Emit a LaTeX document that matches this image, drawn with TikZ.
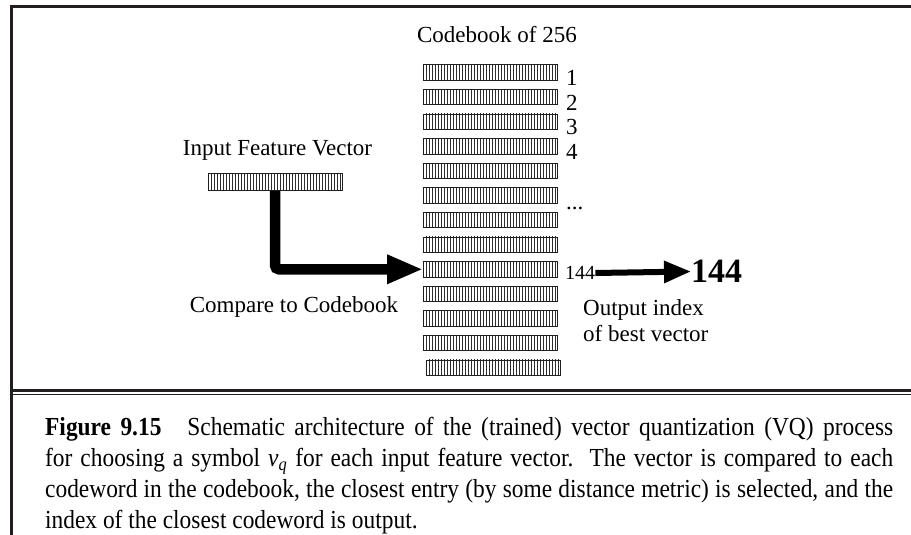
\documentclass[tikz,border=0pt]{standalone}
\usepackage{fontspec}
\setmainfont{Liberation Serif}
\newfontfamily\captionfont[FakeStretch=0.9]{Liberation Serif}
\usepackage{xcolor}
\usepackage{tikz}
\usetikzlibrary{positioning,calc,arrows.meta}
\definecolor{rulegray}{RGB}{35,31,32}
\definecolor{stripegray}{RGB}{45,45,45}

\begin{document}
\begin{tikzpicture}[x=1pt, y=-1pt, codeword/.style={draw=rulegray, line width=0.9pt, minimum width=134pt, minimum height=15.5pt, inner sep=0pt, path picture={\foreach \k in {3,6,...,132} {\draw[stripegray, line width=0.7pt] (path picture bounding box.south west) ++(\k pt,0pt) -- ++(0pt,20pt);}}}, lbl/.style={font=\fontsize{23}{27}\selectfont, inner sep=0pt}, bigarrow/.style={-{Triangle[length=36pt,width=27pt]}, draw=black, line width=10.5pt, rounded corners=4pt}, outarrow/.style={-{Triangle[length=27pt,width=21pt]}, draw=black, line width=6pt}, frameline/.style={draw=rulegray, line width=3pt}]
\useasboundingbox (0,0) rectangle (911,535);
\draw[frameline] (911,7) -- (11,7) -- (11,535);
\draw[frameline] (11,390) -- (911,390);
\draw[draw=rulegray, line width=1.5pt] (11,394.5) -- (911,394.5);
\node[lbl, anchor=base] (title) at (497,43) {Codebook of 256};
\node[codeword] (c1) at (490.5,72.5) {};
\node[codeword] (c2) at (490.5,97.1) {};
\node[codeword] (c3) at (490.5,121.7) {};
\node[codeword] (c4) at (490.5,146.3) {};
\node[codeword] (c5) at (490.5,170.9) {};
\node[codeword] (c6) at (490.5,195.5) {};
\node[codeword] (c7) at (490.5,220.1) {};
\node[codeword] (c8) at (490.5,244.7) {};
\node[codeword] (c9) at (490.5,269.3) {};
\node[codeword] (c10) at (490.5,293.9) {};
\node[codeword] (c11) at (490.5,318.5) {};
\node[codeword] (c12) at (490.5,343.1) {};
\node[codeword] (c13) at (493.5,367.7) {};
\node[lbl, anchor=west] (n1) at (566,78) {1};
\node[lbl, anchor=west] (n2) at (566,103) {2};
\node[lbl, anchor=west] (n3) at (566,127) {3};
\node[lbl, anchor=west] (n4) at (566,152) {4};
\node[lbl, anchor=west] (ndots) at (566,208) {...};
\node[lbl, anchor=base] (inlabel) at (277.5,155) {Input Feature Vector};
\node[codeword, minimum height=17pt] (input) at (275,182) {};
\draw[bigarrow] (input.south) |- (c9.west);
\node[lbl, anchor=base] (compare) at (294,312) {Compare to Codebook};
\node[inner sep=0pt, anchor=west, font=\fontsize{20}{24}\selectfont] (idx) at (565,273) {144};
\node[inner sep=0pt, anchor=west, font=\fontsize{34}{40}\selectfont\bfseries] (best) at (691,271.5) {144};
\draw[outarrow] (idx.east) -- (best.west);
\node[lbl, anchor=north west, align=left, font=\fontsize{23}{26}\selectfont] (outlabel) at (583,299) {Output index\\of best vector};
\node[inner sep=0pt, anchor=north west, text width=848pt, align=justify, font=\captionfont\fontsize{26}{31}\selectfont] (caption) at (45,417) {\textbf{Figure 9.15}\quad Schematic architecture of the (trained) vector quantization (VQ) process\linebreak for choosing a symbol {\itshape v\textsubscript{q}} for each input feature vector.\ \ The vector is compared to each\linebreak codeword in the codebook, the closest entry (by some distance metric) is selected, and the\linebreak index of the closest codeword is output.};
\end{tikzpicture}
\end{document}
